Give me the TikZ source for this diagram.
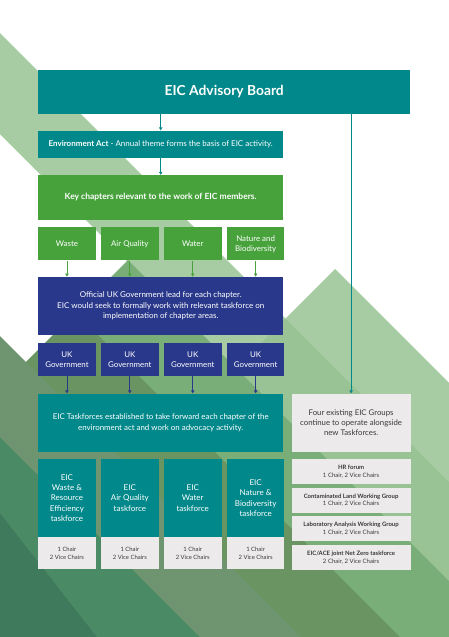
\documentclass[tikz,border=0pt]{standalone}
\usepackage{fontspec}
\setmainfont{Lato}
\usepackage{tikz}
\usetikzlibrary{arrows.meta,positioning}
\definecolor{eicteal}{HTML}{00888A}
\definecolor{eicgreen}{HTML}{47A23C}
\definecolor{eicnavy}{HTML}{2A388B}
\definecolor{eicgrey}{HTML}{ECEAEA}
\definecolor{eictext}{HTML}{3A3A3A}
\definecolor{bgpale}{HTML}{98C293}
\definecolor{bgmid}{HTML}{7AAE79}
\definecolor{bgolive}{HTML}{6A9462}
\definecolor{bggrey}{HTML}{6E9570}
\definecolor{bgdeep}{HTML}{4A8A64}
\definecolor{bgdark}{HTML}{3E7A5B}
\tikzset{
  orgbox/.style={
    rectangle,
    inner sep=1pt,
    align=center,
    text=white,
    anchor=north west
  },
  tealbox/.style={orgbox, fill=eicteal},
  greenbox/.style={orgbox, fill=eicgreen},
  navybox/.style={orgbox, fill=eicnavy},
  greybox/.style={orgbox, fill=eicgrey, text=eictext},
  chapbox/.style={minimum width=57.5pt, minimum height=33pt,
    font=\fontsize{7.9}{9.8}\selectfont},
  wideblock/.style={minimum width=245pt},
  chairbox/.style={greybox, minimum width=57.5pt, minimum height=32pt,
    font=\fontsize{5.9}{7.8}\selectfont},
  groupbox/.style={greybox, minimum width=119pt, minimum height=25pt,
    font=\fontsize{6}{7.7}\selectfont},
  linkarrow/.style={-{Triangle[length=3pt,width=3.4pt]}, line width=0.9pt}
}

\begin{document}
\begin{tikzpicture}[x=1pt,y=-1pt]
  \useasboundingbox (0,0) rectangle (449,637);
  % background bands
  \begin{scope}
    \clip (0,0) rectangle (449,637);
    \fill[white] (0,0) rectangle (449,637);
    \fill[bgpale, fill opacity=0.85] (0,33) -- (449,482) -- (449,583) -- (0,134) -- cycle;
    \fill[bgpale, fill opacity=0.85] (335,269) -- (449,383) -- (449,637) -- (0,637) -- (0,604) -- cycle;
    \fill[bgmid] (128,260) -- (449,581) -- (449,637) -- (0,637) -- (0,388) -- cycle;
    \fill[bgolive] (75.5,312.5) -- (400,637) -- (300,637) -- (25.5,362.5) -- cycle;
    \fill[bggrey] (0,336) -- (301,637) -- (200,637) -- (0,437) -- cycle;
    \fill[bgdeep] (0,437) -- (200,637) -- (97,637) -- (0,513) -- cycle;
    \fill[bgdark] (0,513) -- (97,637) -- (0,637) -- cycle;
  \end{scope}

  % main column
  \node[tealbox, minimum width=372pt, minimum height=43.5pt,
    font=\fontsize{13.8}{15}\selectfont\bfseries] (board) at (38,70) {EIC Advisory Board};
  \node[tealbox, wideblock, minimum height=27pt, font=\fontsize{8}{9}\selectfont,
    below=16.5pt of board.south west, anchor=north west] (envact)
    {\textbf{Environment Act} - Annual theme forms the basis of EIC activity.};
  \node[greenbox, wideblock, minimum height=45pt, font=\fontsize{8.5}{9}\selectfont\bfseries,
    below=17pt of envact.south west, anchor=north west] (key)
    {Key chapters relevant to the work of EIC members.};

  % chapters
  \node[greenbox, chapbox, below=7pt of key.south west, anchor=north west] (waste) {Waste};
  \node[greenbox, chapbox, right=5pt of waste] (airq) {Air Quality};
  \node[greenbox, chapbox, right=5pt of airq] (water) {Water};
  \node[greenbox, chapbox, right=5pt of water] (nature) {Nature and\\Biodiversity};

  \node[navybox, wideblock, minimum height=58pt, font=\fontsize{8}{10.2}\selectfont,
    below=16pt of waste.south west, anchor=north west] (govlead)
    {Official UK Government lead for each chapter.\\EIC would seek to formally work with relevant taskforce on\\implementation of chapter areas.};

  \node[navybox, chapbox, below=8pt of govlead.south west, anchor=north west] (govA) {UK\\Government};
  \node[navybox, chapbox, right=5pt of govA] (govB) {UK\\Government};
  \node[navybox, chapbox, right=5pt of govB] (govC) {UK\\Government};
  \node[navybox, chapbox, right=5pt of govC] (govD) {UK\\Government};

  \node[tealbox, wideblock, minimum height=58pt, font=\fontsize{7.9}{10.6}\selectfont,
    below=17pt of govA.south west, anchor=north west] (tforce)
    {EIC Taskforces established to take forward each chapter of the\\environment act and work on advocacy activity.};

  % taskforces
  \node[tealbox, chapbox, minimum height=78pt, font=\fontsize{8}{10.3}\selectfont,
    below=7pt of tforce.south west, anchor=north west] (tfwaste)
    {EIC\\Waste \&\\Resource\\Efficiency\\taskforce};
  \node[tealbox, chapbox, minimum height=78pt, font=\fontsize{8}{10.3}\selectfont,
    right=5pt of tfwaste] (tfair) {EIC\\Air Quality\\taskforce};
  \node[tealbox, chapbox, minimum height=78pt, font=\fontsize{8}{10.3}\selectfont,
    right=5pt of tfair] (tfwater) {EIC\\Water\\taskforce};
  \node[tealbox, chapbox, minimum height=78pt, font=\fontsize{8}{10.3}\selectfont,
    right=5pt of tfwater] (tfnature) {EIC\\Nature \&\\Biodiversity\\taskforce};

  \node[chairbox, below=0pt of tfwaste.south west, anchor=north west] (chA) {1 Chair\\2 Vice Chairs};
  \node[chairbox, below=0pt of tfair.south west, anchor=north west] (chB) {1 Chair\\2 Vice Chairs};
  \node[chairbox, below=0pt of tfwater.south west, anchor=north west] (chC) {1 Chair\\2 Vice Chairs};
  \node[chairbox, below=0pt of tfnature.south west, anchor=north west] (chD) {1 Chair\\2 Vice Chairs};

  % existing groups
  \node[greybox, minimum width=119pt, minimum height=58pt, font=\fontsize{7.8}{10.3}\selectfont,
    right=8pt of tforce.north east, anchor=north west] (groups)
    {Four existing EIC Groups\\continue to operate alongside\\new Taskforces.};
  \node[groupbox, below=7pt of groups.south west, anchor=north west] (hr)
    {\textbf{HR forum}\\1 Chair, 2 Vice Chairs};
  \node[groupbox, below=3.3pt of hr.south west, anchor=north west] (land)
    {\textbf{Contaminated Land Working Group}\\1 Chair, 2 Vice Chairs};
  \node[groupbox, below=3.3pt of land.south west, anchor=north west] (lab)
    {\textbf{Laboratory Analysis Working Group}\\1 Chair, 2 Vice Chairs};
  \node[groupbox, below=3.3pt of lab.south west, anchor=north west] (netzero)
    {\textbf{EIC/ACE joint Net Zero taskforce}\\2 Chair, 2 Vice Chairs};

  % connectors
  \draw[linkarrow, eicteal] (envact.north |- board.south) -- (envact.north);
  \draw[linkarrow, eicteal] (envact.south) -- (key.north);
  \draw[linkarrow, eicteal] (groups.north |- board.south) -- (groups.north);
  \foreach \c in {waste,airq,water,nature}
    \draw[linkarrow, eicgreen] (\c.south) -- (\c.south |- govlead.north);
  \foreach \g in {govA,govB,govC,govD}
    \draw[linkarrow, eicnavy] (\g.south) -- (\g.south |- tforce.north);
\end{tikzpicture}
\end{document}
